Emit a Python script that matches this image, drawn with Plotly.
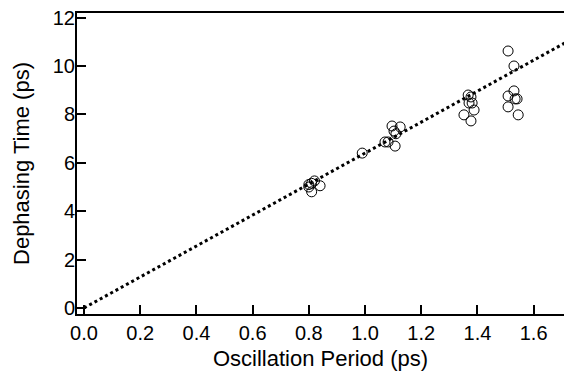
import plotly.graph_objects as go

# Data: oscillation period (ps) vs dephasing time (ps)
period = [0.80, 0.81, 0.82, 0.81, 0.84, 0.80,
          0.99,
          1.096, 1.125, 1.103, 1.071, 1.082, 1.107, 1.11,
          1.367, 1.377, 1.370, 1.381, 1.388, 1.352, 1.377,
          1.509, 1.530, 1.530, 1.509, 1.534, 1.541, 1.509, 1.545]
dephasing = [5.0, 5.15, 5.25, 4.8, 5.05, 5.1,
             6.4,
             7.52, 7.48, 7.31, 6.86, 6.86, 6.69, 7.2,
             8.80, 8.72, 8.47, 8.47, 8.18, 7.98, 7.73,
             10.62, 10.0, 8.97, 8.76, 8.64, 8.64, 8.31, 7.98]

# Linear fit line endpoints
fit_x = [0.0, 1.75]
fit_y = [0.0, 11.2]

x_ticks = [0.0, 0.2, 0.4, 0.6, 0.8, 1.0, 1.2, 1.4, 1.6]
y_ticks = [0, 2, 4, 6, 8, 10, 12]

fig = go.Figure()
fig.add_trace(go.Scatter(x=fit_x, y=fit_y, mode="lines",
                         line=dict(color="black", width=3, dash="3px,3px"),
                         showlegend=False, cliponaxis=True))
fig.add_trace(go.Scatter(x=period, y=dephasing, mode="markers",
                         marker=dict(symbol="circle-open", size=10, color="black",
                                     line=dict(width=1, color="black")),
                         showlegend=False))

font = dict(family="Liberation Sans, Arial, sans-serif", size=18, color="black")
fig.update_layout(
    width=564, height=379,
    margin=dict(l=77, r=0, t=13, b=65),
    paper_bgcolor="white", plot_bgcolor="white",
    font=font,
    xaxis=dict(range=[-0.025, 1.708], tickvals=x_ticks,
               ticktext=[f"{v:.1f}" for v in x_ticks],
               ticks="inside", ticklen=9, tickwidth=2, tickcolor="black",
               showline=True, linewidth=2, linecolor="black", mirror=True,
               showgrid=False, zeroline=False,
               title=dict(text="Oscillation Period (ps)", standoff=8),
               tickfont=dict(size=20)),
    yaxis=dict(range=[-0.25, 12.19], tickvals=y_ticks,
               ticks="inside", ticklen=9, tickwidth=2, tickcolor="black",
               showline=True, linewidth=2, linecolor="black", mirror=False,
               showgrid=False, zeroline=False, ticklabelstandoff=-4,
               title=dict(text="Dephasing Time (ps)", standoff=17),
               tickfont=dict(size=20)),
)
fig.write_html("out.html")
